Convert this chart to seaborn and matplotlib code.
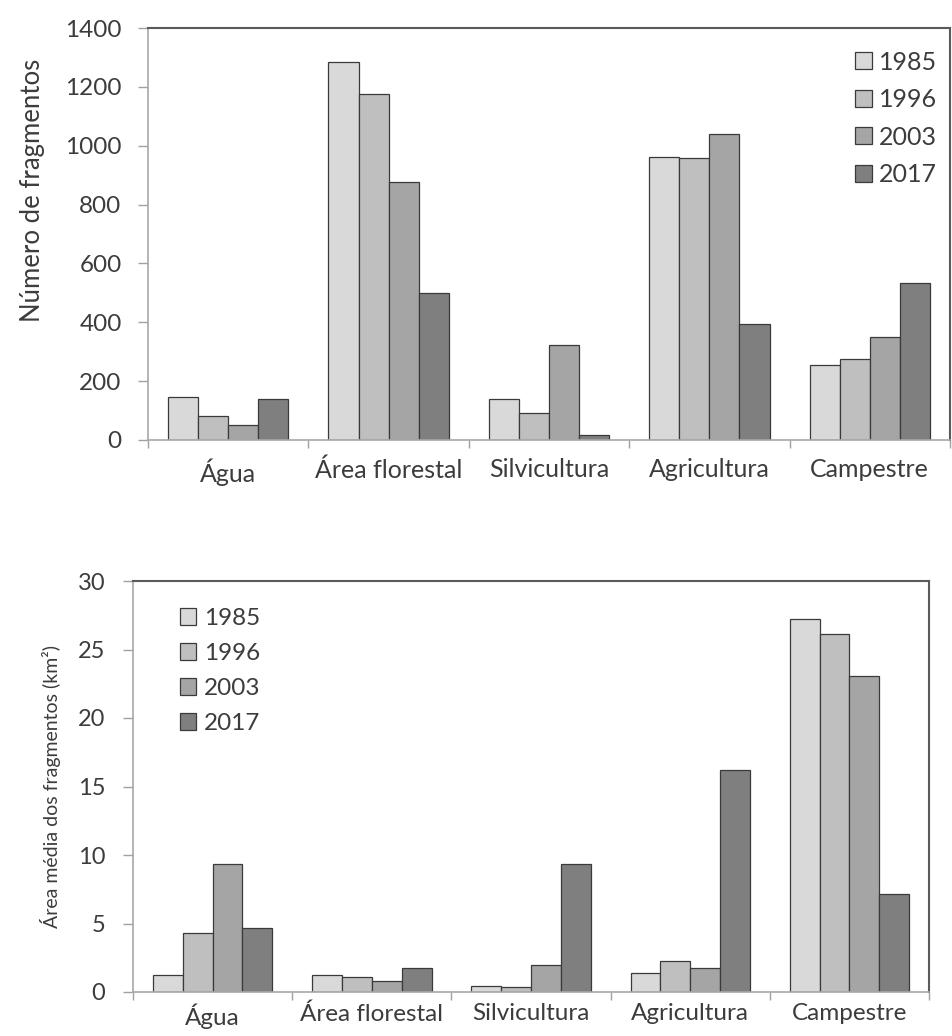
import numpy as np
import pandas as pd
import matplotlib
matplotlib.use("Agg")
import matplotlib.pyplot as plt
import seaborn as sns
from matplotlib.ticker import FixedLocator

categories = ["Água", "Área florestal", "Silvicultura", "Agricultura", "Campestre"]
years = ["1985", "1996", "2003", "2017"]

# Número de fragmentos
frag_1985 = [147, 1285, 139, 963, 255]
frag_1996 = [83, 1176, 93, 959, 275]
frag_2003 = [51, 876, 323, 1040, 351]
frag_2017 = [139, 498, 17, 393, 535]

# Área média dos fragmentos (km²)
area_1985 = [1.26, 1.26, 0.41, 1.38, 27.2]
area_1996 = [4.34, 1.12, 0.38, 2.28, 26.1]
area_2003 = [9.35, 0.80, 2.0, 1.72, 23.1]
area_2017 = [4.66, 1.72, 9.33, 16.2, 7.16]

colors = ["#d9d9d9", "#bfbfbf", "#a5a5a5", "#7f7f7f"]
TXT = "#3c3c3c"

def long_df(series):
    rows = []
    for y, vals in zip(years, series):
        for c, v in zip(categories, vals):
            rows.append({"cat": c, "year": y, "val": v})
    return pd.DataFrame(rows)

df_top = long_df([frag_1985, frag_1996, frag_2003, frag_2017])
df_bot = long_df([area_1985, area_1996, area_2003, area_2017])

sns.set_theme(style="white")
plt.rcParams['font.family'] = ['Lato', 'DejaVu Sans']

fig = plt.figure(figsize=(9.53, 10.36), dpi=100)
W, H = 953, 1036
ax1 = fig.add_axes([148 / W, 1 - 440 / H, (950 - 148) / W, (440 - 28) / H])
ax2 = fig.add_axes([133 / W, 1 - 992 / H, (929 - 133) / W, (992 - 581) / H])

def draw(ax, df, ymax, ystep, ylabel, fs_ytick, fs_xtick, fs_label, fs_leg,
         bbox, xpad, ypad, ylabel_xy):
    sns.barplot(data=df, x="cat", y="val", hue="year", palette=colors,
                width=0.75, edgecolor="#3a3a3a", linewidth=0.9,
                saturation=1, ax=ax, errorbar=None)
    ax.set_xlim(-0.5, 4.5)
    ax.set_ylim(0, ymax)
    ax.set_yticks(np.arange(0, ymax + 0.001, ystep))
    ax.set_xlabel("")
    ax.set_ylabel(ylabel, fontsize=fs_label, color=TXT)
    ax.yaxis.set_label_coords(*ylabel_xy)
    ax.tick_params(axis="y", which="major", direction="out", length=7,
                   width=1, color="#a0a0a0", labelsize=fs_ytick,
                   labelcolor=TXT, left=True, pad=ypad)
    ax.tick_params(axis="x", which="major", length=0, labelsize=fs_xtick,
                   labelcolor=TXT, pad=xpad)
    ax.xaxis.set_minor_locator(FixedLocator(np.arange(-0.5, 4.6, 1.0)))
    ax.tick_params(axis="x", which="minor", direction="out", length=6,
                   width=1, color="#a0a0a0", bottom=True)
    for s in ["top", "right"]:
        ax.spines[s].set_color("#5a5a5a")
        ax.spines[s].set_linewidth(1.5)
    for s in ["left", "bottom"]:
        ax.spines[s].set_color("#a8a8a8")
        ax.spines[s].set_linewidth(1.2)
    ax.grid(False)
    leg = ax.legend(loc="upper left", bbox_to_anchor=bbox, frameon=False,
                    fontsize=fs_leg, handlelength=0.68, handleheight=0.68,
                    handletextpad=0.3, labelspacing=0.58, borderaxespad=0,
                    borderpad=0)
    for t in leg.get_texts():
        t.set_color(TXT)

draw(ax1, df_top, 1400, 200, "Número de fragmentos", 17.5, 18, 18.5, 18,
     (0.881, 0.945), 13, 12, (-0.128, 0.607))
draw(ax2, df_bot, 30, 5, "Área média dos fragmentos (km²)", 17, 17.5, 14, 17.5,
     (0.059, 0.935), 8, 13, (-0.09, 0.5))

fig.savefig("out.png", dpi=100)
